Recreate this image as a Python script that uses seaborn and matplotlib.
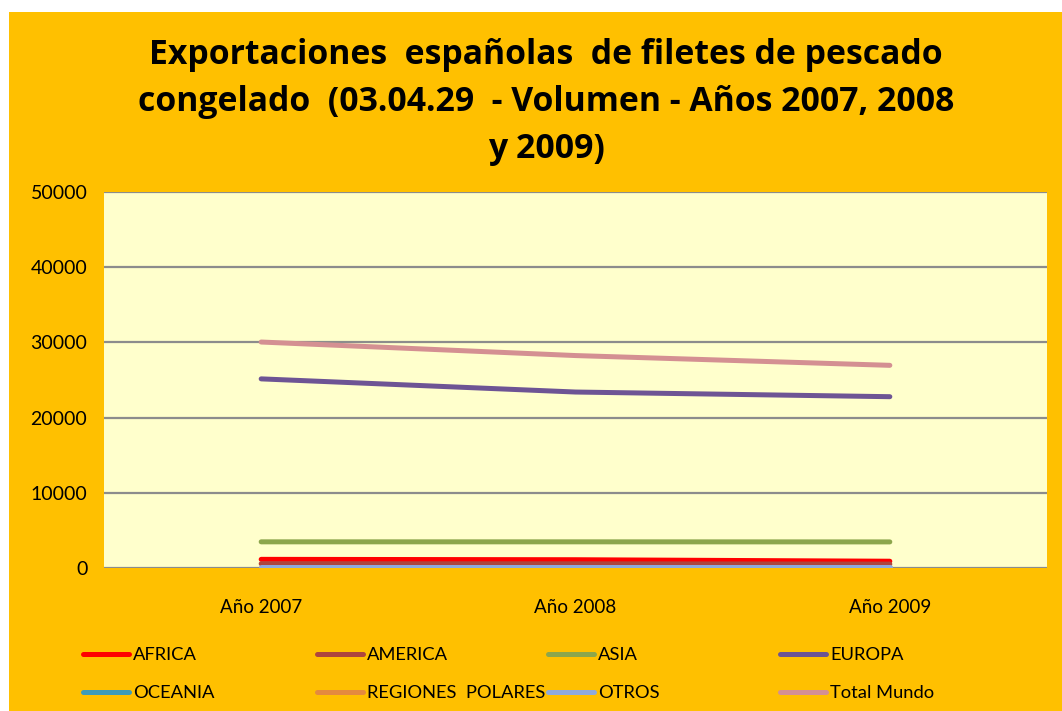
import matplotlib
matplotlib.use("Agg")
import matplotlib.pyplot as plt
from matplotlib.lines import Line2D
from matplotlib.patches import Rectangle
import seaborn as sns
import pandas as pd

years = ["Año 2007", "Año 2008", "Año 2009"]
regions = ["AFRICA", "AMERICA", "ASIA", "EUROPA", "OCEANIA",
           "REGIONES  POLARES", "OTROS", "Total Mundo"]
africa = [1150, 1100, 900]
america = [570, 560, 520]
asia = [3480, 3480, 3470]
europa = [25150, 23400, 22780]
oceania = [20, 20, 20]
regiones_polares = [0, 0, 0]
otros = [100, 100, 100]
total_mundo = [30050, 28250, 26950]
colors = ["#FF0000", "#AE453D", "#8CA64C", "#6D5494", "#3E9BB8",
          "#E48A3E", "#8FAADC", "#D49092"]
yticks = [0, 10000, 20000, 30000, 40000, 50000]
title_lines = ["Exportaciones  españolas  de filetes de pescado",
               "congelado  (03.04.29  - Volumen - Años 2007, 2008",
               "y 2009)"]

series = [africa, america, asia, europa, oceania, regiones_polares, otros, total_mundo]
rows = []
for name, vals in zip(regions, series):
    for yr, v in zip(years, vals):
        rows.append({"year": yr, "value": v, "region": name})
df = pd.DataFrame(rows)

sns.set_theme(style="white")
plt.rcParams["font.family"] = ["Lato", "DejaVu Sans"]

W, H = 1062, 711
fig = plt.figure(figsize=(W / 100, H / 100), dpi=100, facecolor="white")
fig.add_artist(Rectangle((9 / W, 0), 1 - 9 / W, 1 - 12 / H, transform=fig.transFigure,
                         facecolor="#FFC000", edgecolor="none", zorder=-10))

ax = fig.add_axes([104 / W, (H - 568) / H, (1047 - 104) / W, (568 - 192) / H])
ax.set_facecolor("#FFFFCC")

sns.lineplot(data=df, x="year", y="value", hue="region", hue_order=regions,
             palette=dict(zip(regions, colors)), linewidth=3.6, legend=False,
             sort=False, ax=ax, solid_capstyle="round", zorder=3)

ax.set_xlim(-0.5, 2.5)
ax.set_ylim(0, 50000)
ax.set_yticks(yticks)
ax.set_yticklabels([str(t) for t in yticks])
ax.yaxis.grid(True, color="#8C8C8C", linewidth=1.6)
ax.set_axisbelow(True)
for s in ax.spines.values():
    s.set_visible(False)
ax.tick_params(axis="y", length=0, pad=12, labelsize=14, labelcolor="black")
ax.tick_params(axis="x", length=0, pad=22, labelsize=13.5, labelcolor="black")
ax.set_xlabel("")
ax.set_ylabel("")

for i, line in enumerate(title_lines):
    fig.text(546 / W, 1 - (55 + 47 * i) / H, line, ha="center", va="center",
             fontsize=24.3, fontweight="bold", color="black",
             family=["Open Sans", "DejaVu Sans"])

col_x = [83, 317, 548, 780]
row_y = [654, 692]
for i, (name, c) in enumerate(zip(regions, colors)):
    cx = col_x[i % 4]
    cy = row_y[i // 4]
    fig.add_artist(Line2D([cx / W, (cx + 46) / W], [1 - cy / H, 1 - cy / H],
                          transform=fig.transFigure, color=c, linewidth=3.6,
                          solid_capstyle="round"))
    fig.text((cx + 50) / W, 1 - (cy + 1) / H, name, ha="left", va="center",
             fontsize=13.2, color="black")

fig.savefig("out.png", dpi=100, facecolor=fig.get_facecolor())
